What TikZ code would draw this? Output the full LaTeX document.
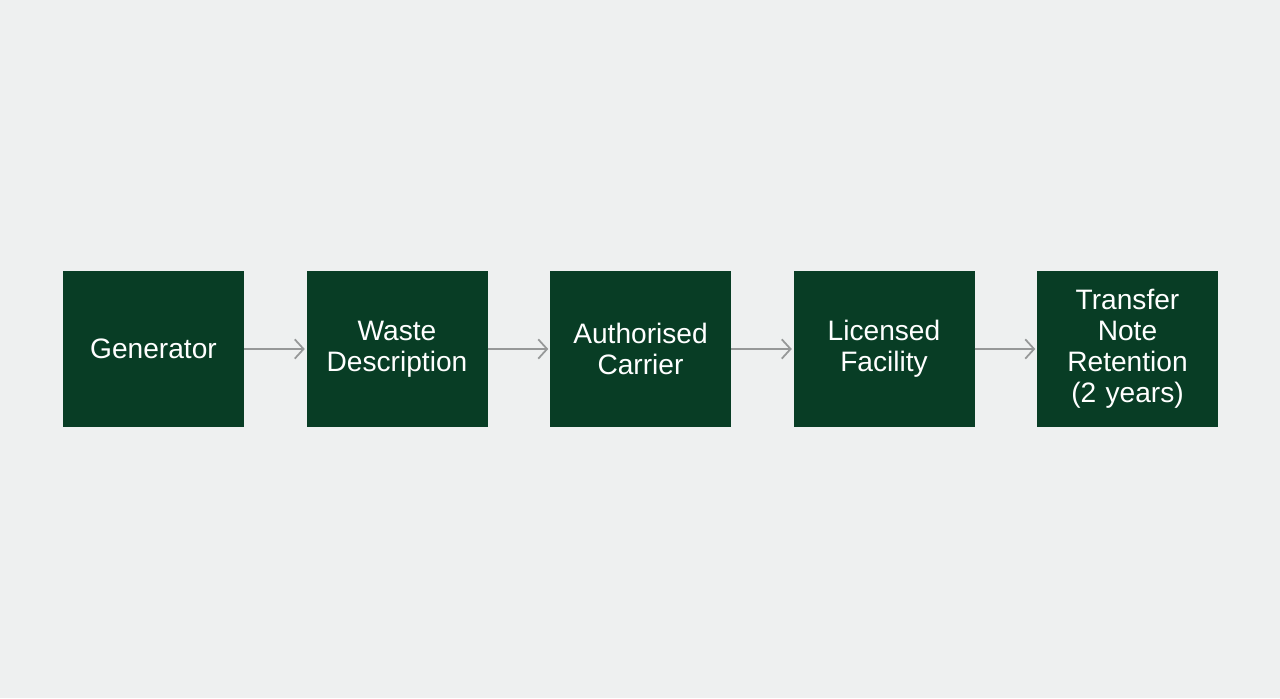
\documentclass[tikz,border=0pt]{standalone}
\usepackage{fontspec}
\setmainfont{Liberation Sans}
\usepackage{tikz}
\usetikzlibrary{arrows,arrows.meta,positioning}
\usepackage{xcolor}
\definecolor{wsbg}{RGB}{238,240,240}
\definecolor{wsgreen}{RGB}{8,61,37}
\definecolor{wsgray}{RGB}{150,152,152}
\tikzstyle{stagebox} = [rectangle, minimum width=3.62cm, minimum height=3.12cm, inner sep=0pt, outer sep=0pt, text centered, text width=3.5cm, align=center, fill=wsgreen, text=white, font=\fontsize{16}{17.6}\selectfont]
\tikzstyle{arrow} = [line width=1pt, -{Straight Barb[length=5pt,width=11pt]}, shorten >=1pt, color=wsgray]

\begin{document}
\begin{tikzpicture}[node distance=1.25cm]
% Canvas
\fill[wsbg] (0,0) rectangle (25.6,13.96);
\useasboundingbox (0,0) rectangle (25.6,13.96);

% Stages
\node[stagebox] (gen) at (3.07,6.98) {Generator};
\node[stagebox, right=of gen] (desc) {Waste\\Description};
\node[stagebox, right=of desc] (carrier) {Authorised\\Carrier};
\node[stagebox, right=of carrier] (facility) {Licensed\\Facility};
\node[stagebox, right=of facility] (note) {Transfer\\Note\\Retention\\(2 years)};

% Connections
\draw[arrow] (gen) -- (desc);
\draw[arrow] (desc) -- (carrier);
\draw[arrow] (carrier) -- (facility);
\draw[arrow] (facility) -- (note);
\end{tikzpicture}
\end{document}
